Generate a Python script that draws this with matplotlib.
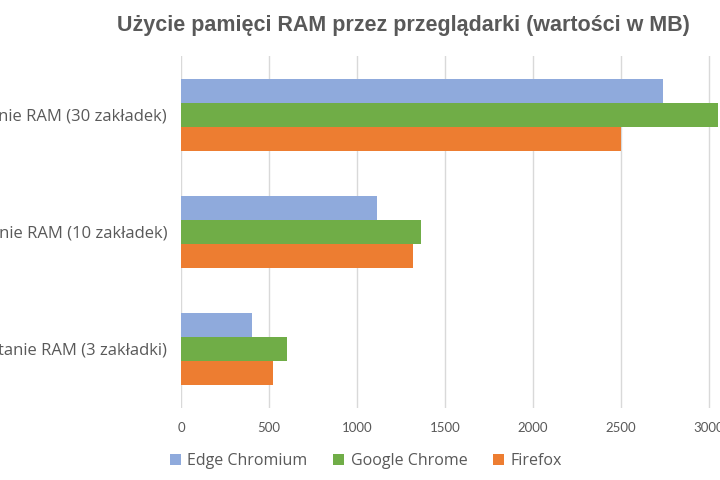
import numpy as np
import matplotlib
matplotlib.use('Agg')
import matplotlib.pyplot as plt
from matplotlib.patches import Patch

categories = ['Wykorzystanie RAM (3 zakładki)', 'Wykorzystanie RAM (10 zakładek)', 'Wykorzystanie RAM (30 zakładek)']
edge = [403, 1115, 2737]
chrome = [602, 1362, 3050]
firefox = [523, 1320, 2500]
series_names = ['Edge Chromium', 'Google Chrome', 'Firefox']
colors = ['#8FAADC', '#70AD47', '#ED7D31']
xticks = [0, 500, 1000, 1500, 2000, 2500, 3000]

grey = '#595959'
fig = plt.figure(figsize=(7.2, 4.8), dpi=100)
ax = fig.add_axes([181 / 720, 72 / 480, 616 / 720, 352 / 480])

y = np.arange(len(categories))
h = 0.205
ax.barh(y + h, edge, height=h, color=colors[0], zorder=2)
ax.barh(y, chrome, height=h, color=colors[1], zorder=2)
ax.barh(y - h, firefox, height=h, color=colors[2], zorder=2)

ax.set_xlim(0, 3500)
ax.set_ylim(-0.5, 2.5)
ax.set_xticks(xticks)
ax.set_xticklabels([str(t) for t in xticks], fontsize=9.5, color=grey, family='Lato')
ax.set_yticks(y)
ax.set_yticklabels(categories, fontsize=12, color=grey, family='Open Sans')
ax.tick_params(axis='x', length=0, pad=10)
ax.tick_params(axis='y', length=0, pad=10)
ax.grid(axis='x', color='#D9D9D9', linewidth=1, zorder=0)
for s in ax.spines.values():
    s.set_visible(False)

fig.text(403 / 720, 454 / 480, 'Użycie pamięci RAM przez przeglądarki (wartości w MB)',
         ha='center', va='center', fontsize=15.5, fontweight='bold', color=grey,
         family=['Liberation Sans Narrow', 'Liberation Sans'])

handles = [Patch(facecolor=c, edgecolor='none') for c in colors]
fig.legend(handles, series_names, loc='center', bbox_to_anchor=(366 / 720, 19 / 480),
           ncol=3, frameon=False, labelcolor=grey,
           handlelength=0.7, handleheight=0.7, handletextpad=0.4, columnspacing=1.6,
           prop={'family': 'Open Sans', 'size': 11.5})

fig.savefig('out.png', dpi=100)
